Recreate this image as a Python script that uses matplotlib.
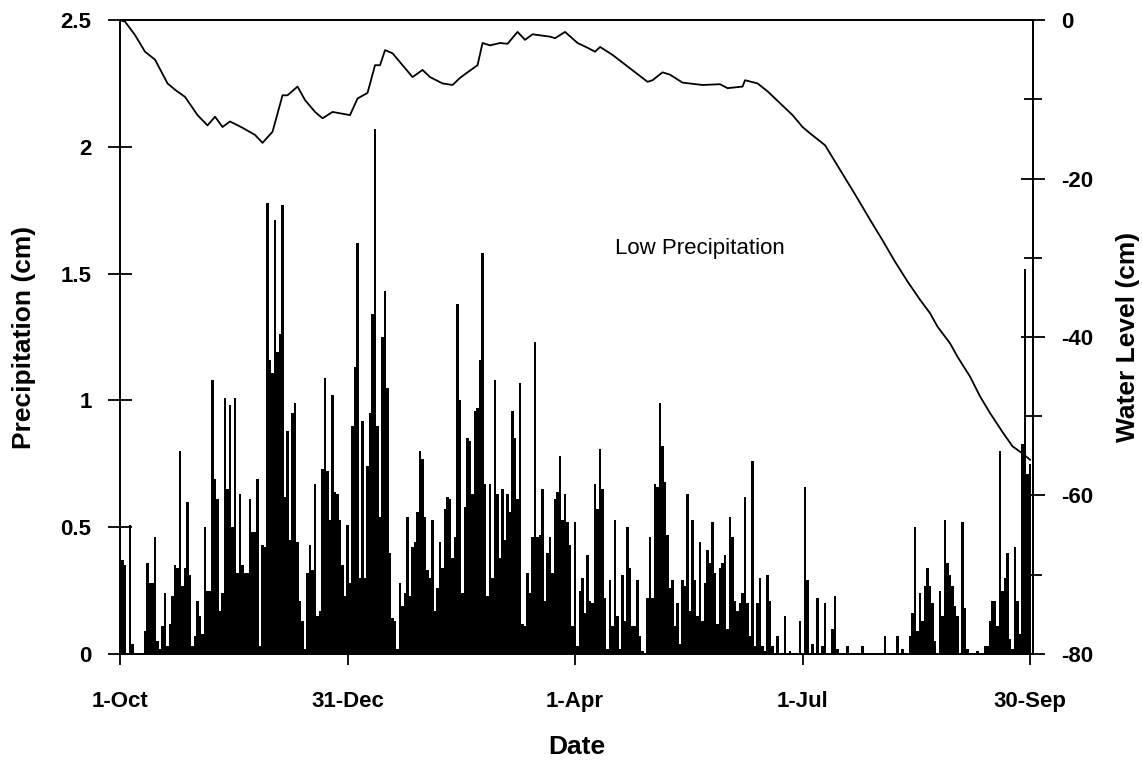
import matplotlib
matplotlib.use('Agg')
import matplotlib.pyplot as plt
import numpy as np

plt.rcParams['font.family'] = ['Liberation Sans', 'DejaVu Sans']
plt.rcParams['axes.unicode_minus'] = False

# daily precipitation (cm), day 0 = 1-Oct
precip = [
    0.52, 0.37, 0.35, 0.00, 0.51, 0.04, 0.00, 0.00, 0.00, 0.00,
    0.09, 0.36, 0.28, 0.28, 0.46, 0.05, 0.02, 0.11, 0.24, 0.03,
    0.12, 0.23, 0.35, 0.34, 0.80, 0.27, 0.34, 0.60, 0.31, 0.03,
    0.07, 0.21, 0.15, 0.08, 0.50, 0.25, 0.25, 1.08, 0.69, 0.61,
    0.17, 0.24, 1.01, 0.65, 0.98, 0.50, 1.01, 0.32, 0.63, 0.35,
    0.32, 0.32, 0.61, 0.48, 0.48, 0.69, 0.03, 0.43, 0.42, 1.78,
    1.16, 1.11, 1.71, 1.19, 1.26, 1.77, 0.62, 0.88, 0.45, 0.95,
    0.99, 0.44, 0.21, 0.13, 0.02, 0.32, 0.43, 0.33, 0.67, 0.15,
    0.17, 0.73, 1.09, 0.72, 0.53, 1.02, 0.64, 0.63, 0.53, 0.35,
    0.23, 0.51, 0.28, 0.90, 1.13, 1.62, 0.30, 0.92, 0.30, 0.74,
    0.95, 1.34, 2.07, 0.90, 0.54, 1.25, 1.43, 1.05, 0.40, 0.14,
    0.13, 0.02, 0.28, 0.19, 0.24, 0.54, 0.23, 0.42, 0.44, 0.56,
    0.80, 0.77, 0.54, 0.33, 0.30, 0.53, 0.17, 0.26, 0.44, 0.34,
    0.57, 0.62, 0.61, 0.38, 0.46, 1.38, 1.00, 0.24, 0.58, 0.85,
    0.84, 0.63, 0.96, 0.97, 1.16, 1.58, 0.67, 0.23, 0.67, 0.30,
    1.08, 0.63, 0.38, 0.65, 0.45, 0.63, 0.56, 0.96, 0.85, 0.61,
    1.07, 0.12, 0.11, 0.32, 0.24, 0.46, 1.23, 0.46, 0.47, 0.65,
    0.21, 0.40, 0.46, 0.32, 0.61, 0.64, 0.78, 0.53, 0.63, 0.52,
    0.43, 0.11, 0.52, 0.03, 0.25, 0.30, 0.16, 0.39, 0.21, 0.20,
    0.67, 0.57, 0.81, 0.65, 0.22, 0.02, 0.29, 0.11, 0.53, 0.15,
    0.02, 0.31, 0.13, 0.50, 0.34, 0.11, 0.11, 0.29, 0.07, 0.01,
    0.00, 0.22, 0.46, 0.22, 0.67, 0.66, 0.99, 0.82, 0.68, 0.47,
    0.26, 0.29, 0.11, 0.20, 0.04, 0.29, 0.27, 0.63, 0.17, 0.53,
    0.29, 0.15, 0.44, 0.13, 0.28, 0.41, 0.36, 0.52, 0.32, 0.12,
    0.34, 0.36, 0.39, 0.10, 0.54, 0.46, 0.21, 0.17, 0.20, 0.24,
    0.62, 0.20, 0.07, 0.76, 0.03, 0.20, 0.30, 0.03, 0.01, 0.31,
    0.21, 0.03, 0.00, 0.07, 0.00, 0.00, 0.15, 0.00, 0.01, 0.00,
    0.00, 0.00, 0.13, 0.00, 0.66, 0.29, 0.00, 0.04, 0.00, 0.22,
    0.00, 0.03, 0.20, 0.00, 0.00, 0.10, 0.23, 0.02, 0.00, 0.00,
    0.00, 0.03, 0.00, 0.00, 0.00, 0.00, 0.00, 0.03, 0.00, 0.00,
    0.00, 0.00, 0.00, 0.00, 0.00, 0.00, 0.07, 0.00, 0.00, 0.00,
    0.00, 0.07, 0.00, 0.02, 0.00, 0.00, 0.07, 0.16, 0.50, 0.09,
    0.24, 0.13, 0.27, 0.34, 0.27, 0.20, 0.05, 0.00, 0.25, 0.15,
    0.53, 0.36, 0.31, 0.27, 0.19, 0.15, 0.00, 0.52, 0.18, 0.02,
    0.00, 0.00, 0.00, 0.01, 0.00, 0.00, 0.03, 0.03, 0.13, 0.21,
    0.21, 0.11, 0.80, 0.25, 0.30, 0.40, 0.06, 0.02, 0.42, 0.21,
    0.08, 0.83, 1.52, 0.71, 0.75,
]
days = np.arange(len(precip))

# water level (cm) read at these days
wl_days = [0, 2, 6, 10, 14, 19, 22, 26, 31, 35, 38, 41, 44, 49, 54, 57, 61,
           65, 67, 71, 74, 78, 81, 85, 92, 95, 99, 102, 104, 106, 109, 113,
           117, 121, 124, 129, 133, 136, 139, 143, 145, 148, 152, 155, 159,
           162, 165, 172, 174, 178, 183, 187, 190, 192, 197, 204, 211, 213,
           217, 220, 225, 233, 240, 243, 249, 250, 255, 259, 264, 269, 273,
           276, 282, 288, 294, 300, 305, 310, 315, 320, 324, 327, 332, 335,
           340, 344, 348, 353, 357, 361, 364]
water_level = [0, -0.2, -1.9, -4.0, -5.0, -8.0, -8.8, -9.7, -12.0, -13.3,
               -12.2, -13.5, -12.8, -13.6, -14.5, -15.5, -14.1, -9.5, -9.5,
               -8.4, -10.1, -11.6, -12.4, -11.6, -12.0, -9.9, -9.2, -5.7,
               -5.7, -3.8, -4.2, -5.7, -7.2, -6.3, -7.2, -8.0, -8.2, -7.3,
               -6.6, -5.7, -2.9, -3.2, -2.9, -3.0, -1.5, -2.5, -1.8, -2.1,
               -2.3, -1.5, -2.9, -3.5, -4.0, -3.4, -4.4, -6.1, -7.8, -7.6,
               -6.6, -6.9, -7.9, -8.2, -8.1, -8.6, -8.4, -7.6, -8.0, -9.0,
               -10.5, -12.0, -13.5, -14.3, -15.8, -18.9, -22.0, -25.2, -27.8,
               -30.5, -33.0, -35.3, -37.0, -38.7, -40.8, -42.5, -45.0, -47.5,
               -49.6, -52.0, -53.8, -54.7, -55.5]

tick_days = [0, 91, 182, 273, 364]
tick_labels = ['1-Oct', '31-Dec', '1-Apr', '1-Jul', '30-Sep']

fig = plt.figure(figsize=(11.42, 7.64), dpi=100)
ax = fig.add_axes([0.1051, 0.144, 0.7995, 0.8298])
ax2 = ax.twinx()

ax.bar(days, precip, width=0.95, color='black', linewidth=0)
ax2.plot(wl_days, water_level, color='black', lw=1.3)

ax.set_xlim(0, 365.2)
ax.set_ylim(0, 2.5)
ax2.set_ylim(-80, 0)

ax.set_xticks(tick_days)
ax.set_xticklabels(tick_labels)
ax.set_yticks([0, 0.5, 1, 1.5, 2, 2.5])
ax.set_yticklabels(['0', '0.5', '1', '1.5', '2', '2.5'])
ax2.set_yticks([0, -20, -40, -60, -80])
ax2.set_yticks([-10, -30, -50, -70], minor=True)

ax.tick_params(axis='y', direction='inout', length=17, width=1.3,
               labelsize=16, pad=12)
ax.tick_params(axis='x', direction='out', length=8, width=1.3,
               labelsize=16, pad=19)
ax2.tick_params(axis='y', which='major', direction='inout', length=17,
                width=1.3, labelsize=16, pad=12)
ax2.tick_params(axis='y', which='minor', direction='inout', length=13,
                width=1.3)
for lab in ax.get_xticklabels() + ax.get_yticklabels() + ax2.get_yticklabels():
    lab.set_fontweight('bold')

for a in (ax, ax2):
    for s in a.spines.values():
        s.set_linewidth(1.3)

ax.set_xlabel('Date', fontsize=19, fontweight='bold', labelpad=16)
ax.set_ylabel('Precipitation (cm)', fontsize=19, fontweight='bold', labelpad=18)
ax2.set_ylabel('Water Level (cm)', fontsize=19, fontweight='bold', labelpad=16)

ax.text(232, 1.6, 'Low Precipitation', fontsize=16, ha='center', va='center')

fig.savefig('out.png', dpi=100)
